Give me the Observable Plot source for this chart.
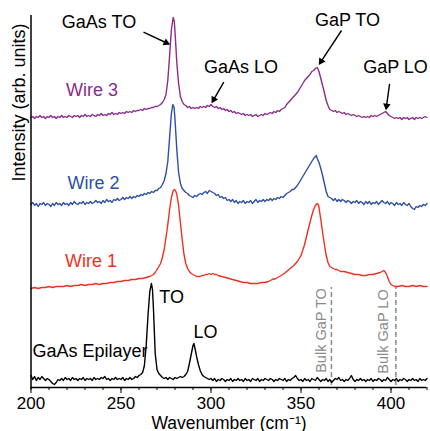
<!DOCTYPE html>
<html><head><meta charset="utf-8">
<script src="https://cdn.jsdelivr.net/npm/d3@7"></script>
<script src="https://cdn.jsdelivr.net/npm/@observablehq/plot@0.6"></script>
<style>body{margin:0;background:#fff}#chart svg{display:block}</style>
</head><body><div id="chart"></div>
<script>
// Spectra: [wavenumber (cm^-1), stacked intensity (arb. units)]
const epilayer = [[200,12],[201,8],[202,11],[203,7],[204,10],[205,8],[206,11],[207,9],[208,7],[209,9],[210,8],[211,6],[212,4],[213,3],[214,5],[215,8],[216,7],[217,9],[218,7],[219,10],[220,8],[221,9],[222,7],[223,10],[224,8],[225,9],[226,7],[227,9],[228,8],[229,10],[230,7],[231,9],[232,8],[233,9],[234,7],[235,10],[236,8],[237,9],[238,8],[239,10],[240,9],[241,11],[242,8],[243,9],[244,7],[245,9],[246,8],[247,10],[248,8],[249,9],[250,8],[251,10],[252,7],[253,9],[254,8],[255,10],[256,8],[257,9],[258,11],[259,10],[260,12],[261,13],[262,15],[263,22],[264,42],[265,72],[266,96],[266.9,104],[267.5,98],[268,80],[269,34],[270,18],[271,14],[272,12],[273,10],[274,9],[275,10],[276,8],[277,10],[278,9],[279,8],[280,10],[281,9],[282,10],[283,11],[284,10],[285,11],[286,13],[287,16],[288,24],[289,33],[290,42],[290.5,44],[291,40],[292,31],[293,23],[294,17],[295,13],[296,11],[297,10],[298,9],[299,8],[300,9],[301,7],[302,9],[303,6],[304,8],[305,7],[306,9],[307,8],[308,6],[309,8],[310,7],[311,9],[312,6],[313,8],[314,7],[315,9],[316,7],[317,8],[318,6],[319,9],[320,7],[321,8],[322,6],[323,9],[324,8],[325,7],[326,9],[327,6],[328,8],[329,7],[330,9],[331,8],[332,7],[333,9],[334,8],[335,6],[336,8],[337,7],[338,9],[339,8],[340,7],[341,9],[342,6],[343,8],[344,7],[345,9],[346,10],[347,12],[348,9],[349,7],[350,8],[351,6],[352,9],[353,7],[354,8],[355,6],[356,9],[357,8],[358,7],[359,10],[360,8],[361,6],[362,8],[363,7],[364,9],[365,6],[366,8],[367,5],[368,7],[369,9],[370,8],[371,10],[372,7],[373,8],[374,6],[375,8],[376,7],[377,9],[378,12],[379,8],[380,6],[381,8],[382,7],[383,9],[384,7],[385,8],[386,6],[387,8],[388,7],[389,9],[390,6],[391,8],[392,7],[393,9],[394,8],[395,6],[396,8],[397,7],[398,10],[399,8],[400,6],[401,8],[402,7],[403,9],[404,6],[405,8],[406,7],[407,9],[408,8],[409,6],[410,8],[411,7],[412,9],[413,7],[414,8],[415,6],[416,9],[417,7],[418,8],[419,7],[420,9]];

const wire1 = [[200,99],[202,100],[204,99],[206,100],[208,100],[210,101],[212,100],[214,101],[216,101],[218,101],[220,102],[222,101],[224,102],[226,102],[228,103],[230,102],[232,103],[234,103],[236,104],[238,103],[240,104],[242,104],[244,105],[246,105],[248,106],[250,106],[252,107],[254,107],[256,108],[258,108],[260,109],[262,109],[264,110],[266,111],[268,113],[269,115],[270,118],[271,121],[272,124],[273,130],[274,138],[275,150],[276,163],[277,178],[278,190],[279,197],[279.8,198],[280.5,196],[281,193],[282,182],[283,165],[284,148],[285,133],[286,124],[287,119],[288,116],[289,114],[290,113],[291,112],[292,111],[293,111],[294,111],[295,112],[296,112],[297,113],[298,113],[299,114],[300,113],[301,114],[302,113],[303,113],[304,112],[306,111],[308,110],[310,109],[312,108],[314,107],[316,106],[318,105],[320,105],[322,104],[324,104],[326,104],[328,105],[330,105],[332,106],[334,108],[336,109],[338,111],[340,113],[342,116],[344,119],[346,122],[348,126],[350,132],[352,143],[354,158],[356,172],[357,178],[358,182],[359,184],[359.6,183],[360,180],[361,168],[362,155],[363,143],[364,132],[365,125],[366,121],[367,120],[368,119],[369,118],[370,118],[372,116],[374,116],[376,115],[378,114],[380,113],[382,113],[384,112],[386,112],[388,113],[390,113],[392,114],[394,115],[395,116],[396,117],[397,115],[398,111],[399,106],[400,103],[401,102],[402,101],[404,101],[406,102],[408,101],[410,101],[412,102],[414,101],[416,102],[418,101],[420,101]];

const wire2 = [[200,183],[201,185],[202,182],[203,184],[204,181],[205,184],[206,183],[207,185],[208,182],[209,184],[210,183],[211,181],[212,184],[213,182],[214,185],[215,183],[216,184],[217,182],[218,185],[219,183],[220,184],[221,182],[222,185],[223,183],[224,186],[225,184],[226,183],[227,185],[228,184],[229,186],[230,183],[231,185],[232,184],[233,186],[234,184],[235,185],[236,187],[237,185],[238,186],[239,184],[240,187],[241,185],[242,188],[243,186],[244,187],[245,185],[246,188],[247,187],[248,189],[249,187],[250,188],[251,190],[252,188],[253,190],[254,189],[255,191],[256,189],[257,191],[258,190],[259,192],[260,191],[261,193],[262,192],[263,194],[264,193],[265,195],[266,194],[267,196],[268,195],[269,197],[270,197],[271,199],[272,200],[273,203],[274,207],[275,214],[276,226],[277,250],[278,274],[278.8,283],[279.5,280],[280,268],[281,238],[282,215],[283,204],[284,199],[285,197],[286,195],[287,194],[288,192],[289,191],[290,190],[291,192],[292,191],[293,193],[294,194],[295,193],[296,195],[297,196],[298,194],[299,197],[300,196],[301,195],[302,194],[303,192],[304,193],[305,190],[306,191],[307,189],[308,190],[309,187],[310,188],[311,186],[312,188],[313,185],[314,187],[315,184],[316,186],[317,185],[318,187],[319,184],[320,186],[321,185],[322,187],[323,184],[324,186],[325,188],[326,185],[327,187],[328,186],[329,188],[330,186],[331,188],[332,187],[333,189],[334,187],[335,189],[336,188],[337,190],[338,189],[339,191],[340,190],[341,192],[342,194],[343,195],[344,196],[345,198],[346,198],[347,200],[348,202],[349,205],[350,208],[351,211],[352,214],[353,217],[354,220],[355,223],[356,226],[357,229],[358,231],[358.5,232],[359,229],[360,225],[361,219],[362,212],[363,204],[364,196],[365,191],[366,190],[367,189],[368,187],[369,189],[370,186],[371,188],[372,186],[373,188],[374,187],[375,185],[376,187],[377,186],[378,184],[379,186],[380,185],[381,187],[382,184],[383,186],[384,185],[385,183],[386,186],[387,184],[388,186],[389,183],[390,185],[391,184],[392,186],[393,183],[394,185],[395,187],[396,185],[397,184],[398,186],[399,183],[400,185],[401,184],[402,182],[403,185],[404,183],[405,184],[406,182],[407,185],[408,183],[409,182],[410,184],[411,181],[412,179],[413,178],[414,181],[415,180],[416,182],[417,181],[418,183],[419,182],[420,184]];

const wire3 = [[200,270],[201,271],[202,269],[203,271],[204,270],[205,272],[206,270],[207,271],[208,269],[209,271],[210,270],[211,272],[212,270],[213,271],[214,269],[215,271],[216,270],[217,272],[218,270],[219,271],[220,270],[221,272],[222,271],[223,270],[224,272],[225,271],[226,272],[227,270],[228,272],[229,271],[230,273],[231,271],[232,272],[233,271],[234,273],[235,272],[236,271],[237,273],[238,272],[239,274],[240,272],[241,273],[242,272],[243,274],[244,273],[245,275],[246,273],[247,274],[248,273],[249,275],[250,274],[251,275],[252,274],[253,276],[254,275],[255,276],[256,275],[257,277],[258,276],[259,277],[260,277],[261,278],[262,277],[263,279],[264,278],[265,279],[266,279],[267,280],[268,280],[269,281],[270,281],[271,282],[272,283],[273,285],[274,288],[275,293],[276,307],[277,332],[278,358],[279,370],[279.6,366],[280,356],[281,325],[282,304],[283,291],[284,286],[285,283],[286,282],[287,280],[288,281],[289,279],[290,280],[291,279],[292,280],[293,279],[294,281],[295,280],[296,281],[297,280],[298,282],[299,281],[300,283],[301,281],[302,280],[303,281],[304,279],[305,280],[306,278],[307,279],[308,277],[309,278],[310,276],[311,277],[312,275],[313,276],[314,274],[315,275],[316,274],[317,273],[318,274],[319,272],[320,273],[321,272],[322,273],[323,271],[324,272],[325,273],[326,271],[327,272],[328,273],[329,272],[330,274],[331,273],[332,274],[333,275],[334,274],[335,276],[336,275],[337,277],[338,276],[339,278],[340,279],[341,280],[342,283],[343,285],[344,287],[345,289],[346,291],[347,293],[348,295],[349,298],[350,301],[351,304],[352,307],[353,309],[354,311],[355,313],[356,316],[357,317],[358,319],[359,320],[360,316],[361,309],[362,302],[363,295],[364,287],[365,282],[366,278],[367,277],[368,276],[369,277],[370,275],[371,276],[372,275],[373,274],[374,275],[375,273],[376,274],[377,273],[378,272],[379,273],[380,272],[381,271],[382,272],[383,271],[384,270],[385,271],[386,270],[387,271],[388,270],[389,272],[390,271],[391,272],[392,271],[393,272],[394,273],[395,274],[396,275],[397,276],[398,274],[399,272],[400,271],[401,270],[402,269],[403,270],[404,269],[405,270],[406,268],[407,270],[408,269],[409,270],[410,268],[411,269],[412,270],[413,268],[414,270],[415,269],[416,270],[417,269],[418,270],[419,271],[420,270]];

const colors = {epi: "#000000", w1: "#ee3124", w2: "#2d4fa3", w3: "#8b2c8c", bulk: "#8a8a8a"};

const majorTicks = [200, 250, 300, 350, 400];
const minorTicks = [200,210,220,230,240,250,260,270,280,290,300,310,320,330,340,350,360,370,380,390,400,410,420];

// Series labels
const seriesLabels = [
  {text: "Wire 3", x: 233.9, y: 297, color: colors.w3},
  {text: "Wire 2", x: 234.7, y: 204.5, color: colors.w2},
  {text: "Wire 1", x: 233.3, y: 126, color: colors.w1},
  {text: "GaAs Epilayer", x: 232.8, y: 36, color: colors.epi}
];
// Peak annotations
const peakLabels = [
  {text: "GaAs TO", x: 237.8, y: 365.5},
  {text: "GaAs LO", x: 316.7, y: 320},
  {text: "GaP TO", x: 375.8, y: 367.5},
  {text: "GaP LO", x: 402.5, y: 320},
  {text: "TO", x: 278.1, y: 90},
  {text: "LO", x: 297, y: 55}
];
const arrows = [
  {x1: 262.5, y1: 355.3, x2: 276.6, y2: 343.5},
  {x1: 307.1, y1: 305.3, x2: 300.7, y2: 285.3},
  {x1: 372.5, y1: 357, x2: 360.3, y2: 323.7},
  {x1: 399.2, y1: 303.7, x2: 397.3, y2: 278.7}
];
// Bulk GaP reference positions
const bulkLines = [
  {x: 366.9, y1: 2, y2: 100},
  {x: 402.7, y1: 2, y2: 100}
];
const bulkLabels = [
  {text: "Bulk GaP TO", x: 361.1, y: 57},
  {text: "Bulk GaP LO", x: 395.6, y: 56}
];

const toRows = pts => pts.map(([x, y]) => ({x, y}));

// filled arrow heads: triangle placed just behind each arrow tip, rotated along the arrow
const pxPerX = 396 / 220, pxPerY = 1;
const heads = arrows.map(a => {
  const sx = (a.x2 - a.x1) * pxPerX, sy = -(a.y2 - a.y1) * pxPerY;
  const len = Math.hypot(sx, sy), ux = sx / len, uy = sy / len;
  const back = 3;
  return {
    x: a.x2 - ux * back / pxPerX,
    y: a.y2 + uy * back / pxPerY,
    angle: Math.atan2(uy, ux) * 180 / Math.PI + 90
  };
});

const chart = Plot.plot({
  width: 430,
  height: 431,
  marginLeft: 30.5,
  marginRight: 3.5,
  marginTop: 15,
  marginBottom: 44,
  style: {fontFamily: "'Liberation Sans', Arial, sans-serif", fontSize: "18px", background: "#fff", color: "#000"},
  x: {domain: [200, 420]},
  y: {domain: [0, 372], axis: null},
  marks: [
    Plot.ruleX(bulkLines, {x: "x", y1: "y1", y2: "y2", stroke: colors.bulk, strokeWidth: 1.5, strokeDasharray: "5,3"}),
    Plot.text(bulkLabels, {x: "x", y: "y", text: "text", rotate: -90, fill: colors.bulk, fontSize: 14.5}),
    Plot.line(toRows(epilayer), {x: "x", y: "y", stroke: colors.epi, strokeWidth: 1.4}),
    Plot.line(toRows(wire1), {x: "x", y: "y", stroke: colors.w1, strokeWidth: 1.4}),
    Plot.line(toRows(wire2), {x: "x", y: "y", stroke: colors.w2, strokeWidth: 1.4}),
    Plot.line(toRows(wire3), {x: "x", y: "y", stroke: colors.w3, strokeWidth: 1.4}),
    Plot.text(seriesLabels, {x: "x", y: "y", text: "text", fill: "color", fontSize: 18}),
    Plot.text(peakLabels, {x: "x", y: "y", text: "text", fill: "#000", fontSize: 18}),
    Plot.link(arrows, {x1: "x1", y1: "y1", x2: "x2", y2: "y2", stroke: "#000", strokeWidth: 1.4}),
    Plot.dot(heads, {x: "x", y: "y", rotate: "angle", symbol: "triangle2", r: 3.6, fill: "#000", stroke: "none"}),
    Plot.ruleX([200], {stroke: "#000", strokeWidth: 1.5}),
    Plot.ruleY([0], {stroke: "#000", strokeWidth: 1.5}),
    Plot.axisX({ticks: minorTicks, tickSize: 3, tickFormat: () => "", label: null, strokeWidth: 1}),
    Plot.axisX({ticks: majorTicks, tickSize: 6, tickPadding: 3, fontSize: 17, label: null, strokeWidth: 1}),
    Plot.text(["Wavenumber (cm\u207B\u00B9)"], {frameAnchor: "bottom", dy: 41, lineAnchor: "bottom", fontSize: 17.5}),
    Plot.text(["Intensity (arb. units)"], {frameAnchor: "left", rotate: -90, dx: -12, dy: -20, fontSize: 18})
  ]
});
document.getElementById("chart").appendChild(chart);
</script>
</body></html>
